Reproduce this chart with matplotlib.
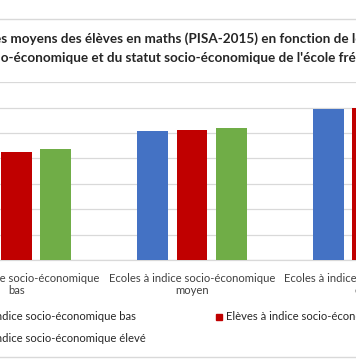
import matplotlib
matplotlib.use("Agg")
import matplotlib.pyplot as plt
from matplotlib.lines import Line2D
from matplotlib.patches import Rectangle
import numpy as np

# ---------------- data ----------------
categories = ["Ecoles à indice socio-économique\nbas",
              "Ecoles à indice socio-économique\nmoyen",
              "Ecoles à indice socio-économique\nélevé"]
series_names = ["Elèves à indice socio-économique bas",
                "Elèves à indice socio-économique moyen",
                "Elèves à indice socio-économique élevé"]
series_colors = ["#4472C4", "#C00000", "#70AD47"]
low_students = [418, 508, 596]
mid_students = [425, 514, 600]
high_students = [436, 520, 610]
yticks = [0, 100, 200, 300, 400, 500, 600, 700]
title_line1 = "Scores moyens des élèves en maths (PISA-2015) en fonction de leur statut"
title_line2 = "socio-économique et du statut socio-économique de l'école fréquentée"

W, H = 356, 364
fig = plt.figure(figsize=(W / 100, H / 100), dpi=100)
FAM = ["Lato", "DejaVu Sans"]
renderer = fig.canvas.get_renderer()


def text_w(s, size, weight="normal"):
    t = fig.text(0, 0, s, fontsize=size, family=FAM, fontweight=weight)
    w = t.get_window_extent(renderer).width
    t.remove()
    return w


def fit(s, target, weight="normal"):
    return 10 * target / text_w(s, 10, weight)


# axes geometry in pixels (top-left origin)
cat_px = 175.6
c0 = 16.4
ax_left = c0 - 0.5 * cat_px
ax_right = c0 + 2.5 * cat_px
ax_top, ax_bot = 82.3, 260.0
ax = fig.add_axes([ax_left / W, (H - ax_bot) / H,
                   (ax_right - ax_left) / W, (ax_bot - ax_top) / H])

x = np.arange(len(categories))
bw = 30.6 / cat_px
step = 39.3 / cat_px
for i, vals in enumerate([low_students, mid_students, high_students]):
    ax.bar(x + (i - 1) * step, vals, width=bw, color=series_colors[i],
           edgecolor="none", zorder=3, label=series_names[i])

ax.set_xlim(-0.5, 2.5)
ax.set_ylim(0, 700)
ax.set_yticks(yticks)
ax.grid(axis="y", color="#D9D9D9", linewidth=0.9, zorder=0)
for s in ["top", "right", "left"]:
    ax.spines[s].set_visible(False)
ax.spines["bottom"].set_color("#D9D9D9")
ax.spines["bottom"].set_linewidth(0.9)
ax.tick_params(axis="both", length=0)
ax.tick_params(axis="y", labelleft=False)

lab_size = fit("Ecoles à indice socio-économique", 167)
ax.set_xticks(x)
ax.set_xticklabels(categories, fontsize=lab_size, family=FAM, color="#404040",
                   linespacing=1.2)
ax.tick_params(axis="x", pad=9)

# title
t_size = fit("s moyens des élèves en maths (PISA-2015) en fonction de l", 353, "bold")
x1 = 1 - text_w("Score", t_size, "bold")
x2 = 1 - text_w("soci", t_size, "bold")
fig.text(x1 / W, 1 - 38.5 / H, title_line1, fontsize=t_size, family=FAM,
         fontweight="bold", color="#262626", ha="left", va="center")
fig.text(x2 / W, 1 - 58 / H, title_line2, fontsize=t_size, family=FAM,
         fontweight="bold", color="#262626", ha="left", va="center")

# legend (manual, Excel-like layout)
leg_size = lab_size
col1_start = 145.7 - text_w(series_names[2], leg_size)
entries = [(col1_start, 317, 0), (226.5, 317, 1), (col1_start, 338, 2)]
msz = 5.5
for tx, ty, k in entries:
    fig.add_artist(Rectangle(((tx - 10) / W, (H - ty - msz / 2) / H), msz / W, msz / H,
                             transform=fig.transFigure, color=series_colors[k]))
    fig.text(tx / W, 1 - ty / H, series_names[k], fontsize=leg_size, family=FAM,
             color="#262626", ha="left", va="center")

# chart border lines (top and bottom visible)
for yy in (19, 357):
    fig.add_artist(Line2D([0, 1], [1 - yy / H, 1 - yy / H], transform=fig.transFigure,
                          color="#D9D9D9", linewidth=1.0))

fig.savefig("out.png", dpi=100)
